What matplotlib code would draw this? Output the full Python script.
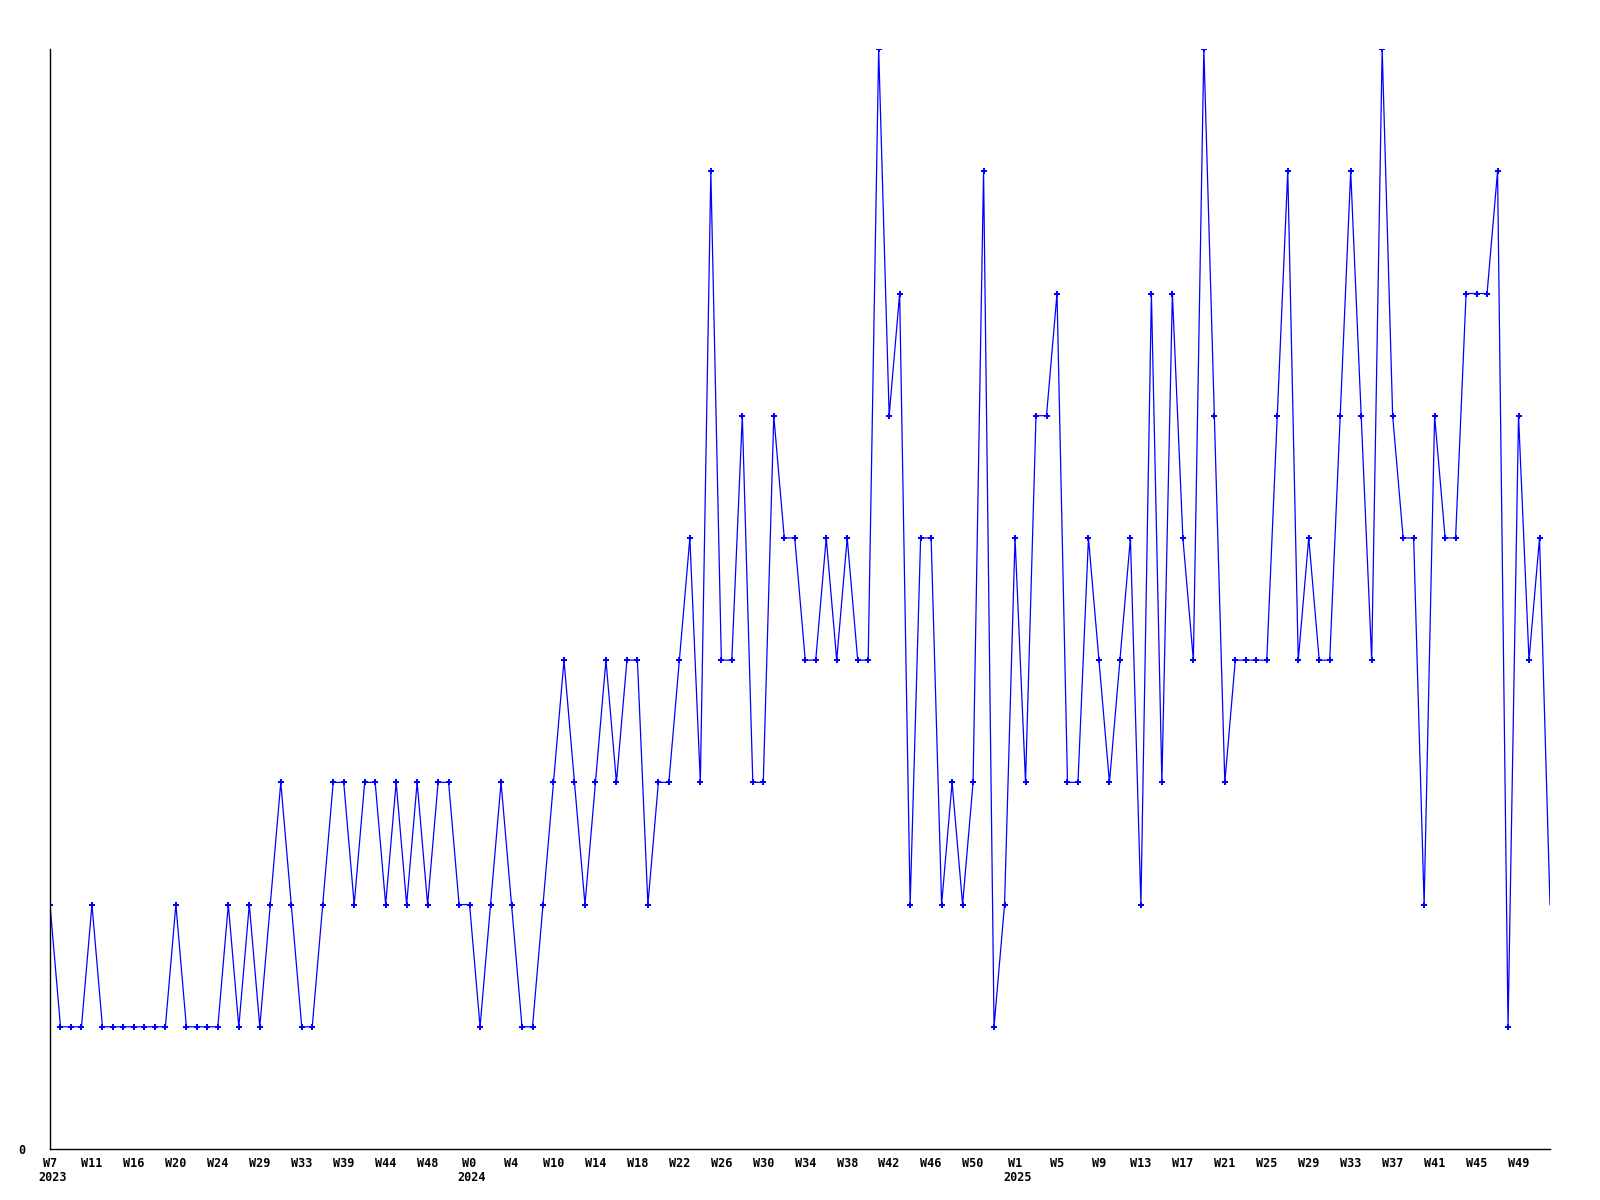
import matplotlib
matplotlib.use("Agg")
import matplotlib.pyplot as plt

# weekly counts, one value per point
counts = [2, 1, 1, 1, 2, 1, 1, 1, 1, 1, 1, 1, 2, 1, 1, 1, 1, 2, 1, 2,
          1, 2, 3, 2, 1, 1, 2, 3, 3, 2, 3, 3, 2, 3, 2, 3, 2, 3, 3, 2,
          2, 1, 2, 3, 2, 1, 1, 2, 3, 4, 3, 2, 3, 4, 3, 4, 4, 2, 3, 3,
          4, 5, 3, 8, 4, 4, 6, 3, 3, 6, 5, 5, 4, 4, 5, 4, 5, 4, 4, 9,
          6, 7, 2, 5, 5, 2, 3, 2, 3, 8, 1, 2, 5, 3, 6, 6, 7, 3, 3, 5,
          4, 3, 4, 5, 2, 7, 3, 7, 5, 4, 9, 6, 3, 4, 4, 4, 4, 6, 8, 4,
          5, 4, 4, 6, 8, 6, 4, 9, 6, 5, 5, 2, 6, 5, 5, 7, 7, 7, 8, 1,
          6, 4, 5, 2]

week_labels = ["W7", "W11", "W16", "W20", "W24", "W29", "W33", "W39", "W44",
               "W48", "W0", "W4", "W10", "W14", "W18", "W22", "W26", "W30",
               "W34", "W38", "W42", "W46", "W50", "W1", "W5", "W9", "W13",
               "W17", "W21", "W25", "W29", "W33", "W37", "W41", "W45", "W49"]
label_step = 4

years = ["2023", "2024", "2025"]
year_pos = [0, 40, 92]

font = {"family": "DejaVu Sans Mono", "weight": "bold", "size": 8.5}

fig = plt.figure(figsize=(16, 12), dpi=100)
ax = fig.add_axes([0.03125, 0.0425, 0.9375, 0.9166])

x = list(range(len(counts)))
ax.plot(x, counts, color="#0000ff", linewidth=0.9, marker="P", markersize=4,
        markeredgewidth=0, markevery=list(range(len(counts) - 1)))

ax.set_xlim(0, len(counts) - 1)
ax.set_ylim(0, 9)

ax.spines["top"].set_visible(False)
ax.spines["right"].set_visible(False)
ax.spines["left"].set_linewidth(1)
ax.spines["bottom"].set_linewidth(1)

ax.set_xticks(range(0, len(week_labels) * label_step, label_step))
ax.set_xticklabels(week_labels, **font)
ax.set_yticks([0])
ax.set_yticklabels(["0"], **font)
ax.tick_params(axis="x", length=0, pad=6)
ax.tick_params(axis="y", length=0, pad=18)

for yr, pos in zip(years, year_pos):
    ax.annotate(yr, xy=(pos, 0), xycoords=("data", "axes fraction"),
                xytext=(-12, -22), textcoords="offset pixels",
                ha="left", va="top", **font)

fig.savefig("out.png")
